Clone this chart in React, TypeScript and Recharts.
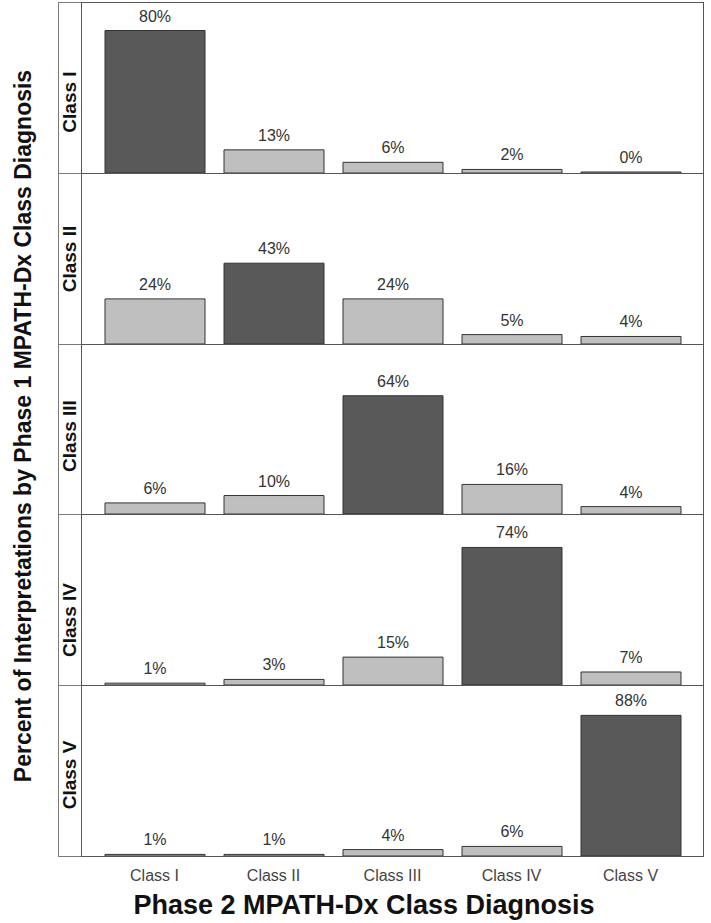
import { BarChart, Bar, XAxis, YAxis, Cell, LabelList } from "recharts";

const classes = ["Class I", "Class II", "Class III", "Class IV", "Class V"];

// percent of interpretations, one row per phase 1 diagnosis
const rowClassI = [80, 13, 6, 2, 0];
const rowClassII = [24, 43, 24, 5, 4];
const rowClassIII = [6, 10, 64, 16, 4];
const rowClassIV = [1, 3, 15, 74, 7];
const rowClassV = [1, 1, 4, 6, 88];

// top of each panel's y scale (free scales)
const panelMax = [96, 91, 92, 92, 107];

const rows = [rowClassI, rowClassII, rowClassIII, rowClassIV, rowClassV];

// strip labels are not quite centred in the original
const stripShift = [14, 0, 7, 20, 4];

const FONT = "'Liberation Sans', Arial, Helvetica, sans-serif";
const PANEL_LEFT = 82;
const PANEL_W = 621;
const TOP = 2;
const BOTTOM = 856;
const AXIS_H = 40;

function Panel({ idx }: { idx: number }) {
  const step = (BOTTOM - TOP) / rows.length;
  const top = Math.round(TOP + idx * step);
  const bottom = Math.round(TOP + (idx + 1) * step);
  const h = bottom - top;
  const last = idx === rows.length - 1;
  const data = classes.map((c, i) => ({ name: c, value: rows[idx][i] }));

  return (
    <>
      <div
        style={{
          position: "absolute",
          left: 58,
          top,
          width: 24,
          height: h + 1,
          boxSizing: "border-box",
          border: "1px solid #7a7a7a",
        }}
      />
      <div
        style={{
          position: "absolute",
          left: 70,
          top: top + h / 2 + stripShift[idx],
          transform: "translate(-50%, -50%) rotate(-90deg)",
          whiteSpace: "nowrap",
          fontWeight: "bold",
          fontSize: 19,
          color: "#111",
        }}
      >
        {classes[idx]}
      </div>
      <div style={{ position: "absolute", left: PANEL_LEFT, top }}>
        <BarChart
          width={PANEL_W}
          height={h + (last ? AXIS_H : 0)}
          data={data}
          margin={{ top: 0, right: 0, bottom: 0, left: 0 }}
        >
          <XAxis
            dataKey="name"
            hide={!last}
            height={last ? AXIS_H : 0}
            padding={{ left: 13, right: 13 }}
            axisLine={false}
            tickLine={false}
            tickSize={6}
            tickMargin={8}
            tick={{ fill: "#444", fontSize: 16, fontFamily: FONT }}
          />
          <YAxis hide domain={[0, panelMax[idx]]} />
          <Bar
            dataKey="value"
            barSize={100}
            minPointSize={1}
            stroke="#333"
            strokeWidth={1}
            isAnimationActive={false}
          >
            {data.map((d, i) => (
              <Cell key={d.name} fill={i === idx ? "#595959" : "#bfbfbf"} />
            ))}
            <LabelList
              dataKey="value"
              position="top"
              offset={9}
              formatter={(v: number) => `${v}%`}
              style={{ fill: "#333", fontSize: 16, fontFamily: FONT }}
            />
          </Bar>
        </BarChart>
      </div>
      <div
        style={{
          position: "absolute",
          left: PANEL_LEFT - 1,
          top,
          width: PANEL_W + 2,
          height: h + 1,
          boxSizing: "border-box",
          border: "1px solid #555",
          pointerEvents: "none",
        }}
      />
    </>
  );
}

export default function App() {
  return (
    <div
      style={{
        position: "absolute",
        left: 0,
        top: 0,
        width: 711,
        height: 923,
        background: "#fff",
        fontFamily: FONT,
        overflow: "hidden",
      }}
    >
      {rows.map((_, i) => (
        <Panel key={i} idx={i} />
      ))}
      <div
        style={{
          position: "absolute",
          left: 23,
          top: 426,
          transform: "translate(-50%, -50%) rotate(-90deg)",
          whiteSpace: "nowrap",
          fontWeight: "bold",
          fontSize: 23,
          color: "#111",
        }}
      >
        Percent of Interpretations by Phase 1 MPATH-Dx Class Diagnosis
      </div>
      <div
        style={{
          position: "absolute",
          left: 364,
          top: 905,
          transform: "translate(-50%, -50%)",
          whiteSpace: "nowrap",
          fontWeight: "bold",
          fontSize: 27,
          color: "#111",
        }}
      >
        Phase 2 MPATH-Dx Class Diagnosis
      </div>
    </div>
  );
}
